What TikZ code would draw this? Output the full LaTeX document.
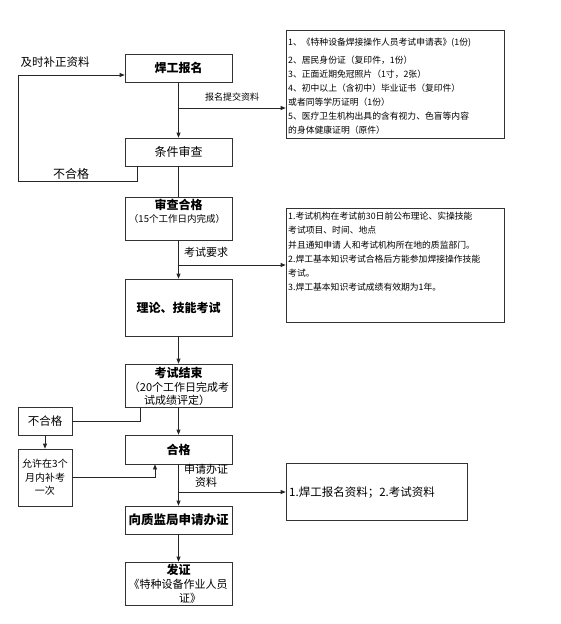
\documentclass[tikz,border=0pt]{standalone}
\usepackage{fontspec}
\setmainfont{Noto Sans CJK SC}
\usetikzlibrary{arrows.meta}
\begin{document}
\begin{tikzpicture}[x=1pt,y=-1pt,
  box/.style={draw=black!80, line width=0.7pt, minimum width=107pt, inner sep=0pt},
  sbox/.style={draw=black!80, line width=0.7pt, minimum width=54pt, inner sep=0pt},
  rbox/.style={draw=black!80, line width=0.7pt, inner sep=0pt},
  conn/.style={draw=black!85, line width=0.7pt},
  arr/.style={conn, -{Triangle[length=5pt,width=4pt]}},
  ttl/.style={font=\bfseries\fontsize{12}{14}\selectfont, inner sep=0pt},
  lbl/.style={inner sep=0pt},
  note/.style={inner sep=0pt, align=left, anchor=north west}
]
\useasboundingbox (0,0) rectangle (561,624);
% main column
\node[box, minimum height=28pt, ttl] (hb) at (178.5,68) {焊工报名};
\node[box, minimum height=28pt, font=\fontsize{12}{14}\selectfont] (tj) at (178.5,152) {条件审查};
\node[box, minimum height=43pt] (sc) at (178.5,218.5) {};
\node[ttl] (sct) at (178.5,205) {审查合格};
\node[lbl, font=\fontsize{9.5}{11}\selectfont] (scs) at (177,219) {（15个工作日内完成）};
\node[box, minimum height=57pt, ttl] (ll) at (178.5,307.5) {理论、技能考试};
\node[box, minimum height=43pt] (ks) at (178.5,385.5) {};
\node[ttl] (kst) at (178.5,373) {考试结束};
\node[lbl, font=\fontsize{11}{13}\selectfont] (kss1) at (179,387) {（20个工作日完成考};
\node[lbl, font=\fontsize{11}{13}\selectfont] (kss2) at (177,400) {试成绩评定）};
\node[box, minimum height=29pt, ttl] (hg) at (178.5,449.5) {合格};
\node[box, minimum height=28pt, font=\bfseries\fontsize{12.5}{14}\selectfont] (xz) at (178.5,520) {向质监局申请办证};
\node[box, minimum height=43pt] (fz) at (178.5,583.5) {};
\node[ttl] (fzt) at (178.5,570) {发证};
\node[lbl, font=\fontsize{11}{13}\selectfont] (fzs1) at (178,584) {《特种设备作业人员};
\node[lbl, font=\fontsize{11}{13}\selectfont] (fzs2) at (190,598) {证》};
% left boxes
\node[sbox, minimum height=28pt, font=\fontsize{11.5}{13}\selectfont] (bhg) at (45,421) {不合格};
\node[sbox, minimum height=57pt, align=center, font=\fontsize{10}{13.5}\selectfont] (yx) at (45,477.5) {允许在3个\\月内补考\\一次};
% right boxes
\node[rbox, minimum width=218pt, minimum height=108pt] (r1) at (395,84) {};
\node[note, font=\fontsize{8.8}{14}\selectfont] (r1t) at (288,38) {1、《特种设备焊接操作人员考试申请表》(1份)\\[4pt]
2、居民身份证（复印件，1份）\\
3、正面近期免冠照片（1寸，2张）\\
4、初中以上（含初中）毕业证书（复印件）\\
或者同等学历证明（1份）\\
5、医疗卫生机构出具的含有视力、色盲等内容\\
的身体健康证明（原件）};
\node[rbox, minimum width=218pt, minimum height=114pt] (r2) at (395,265) {};
\node[note, font=\fontsize{8.8}{14.2}\selectfont] (r2t) at (288,212) {1.考试机构在考试前30日前公布理论、实操技能\\
考试项目、时间、地点\\
并且通知申请 人和考试机构所在地的质监部门。\\
2.焊工基本知识考试合格后方能参加焊接操作技能\\
考试。\\
3.焊工基本知识考试成绩有效期为1年。};
\node[rbox, minimum width=181pt, minimum height=57pt] (r3) at (376.5,491.5) {};
\node[lbl, anchor=west, font=\fontsize{11.5}{13}\selectfont] (r3t) at (289,493) {1.焊工报名资料；2.考试资料};
% labels
\node[lbl, font=\fontsize{11.5}{13}\selectfont] (lb1) at (55,62) {及时补正资料};
\node[lbl, font=\fontsize{9}{11}\selectfont] (lb2) at (232,97) {报名提交资料};
\node[lbl, font=\fontsize{12}{14}\selectfont] (lb3) at (71,174) {不合格};
\node[lbl, font=\fontsize{11}{13}\selectfont] (lb4) at (206,252) {考试要求};
\node[lbl, align=center, font=\fontsize{11}{13.5}\selectfont] (lb5) at (206,476) {申请办证\\资料};
% coordinates
\coordinate (b1) at (178.5,108);
\coordinate (b2) at (178.5,265);
\coordinate (b3) at (178.5,492);
\coordinate (l1) at (137,181);
\coordinate (l2) at (18,181);
\coordinate (l3) at (18,75);
\coordinate (f1) at (140,421);
\coordinate (g1) at (155,477.5);
% connectors
\draw[arr] (hb.south) -- (tj.north);
\draw[arr] (b1) -- (b1 -| r1.west);
\draw[arr] (tj.south -| l1) -- (l1) -- (l2) -- (l3) -- (l3 -| hb.west);
\draw[conn] (tj.south) -- (sc.north);
\draw[arr] (sc.south) -- (ll.north);
\draw[arr] (b2) -- (b2 -| r2.west);
\draw[arr] (ll.south) -- (ks.north);
\draw[arr] (ks.south) -- (hg.north);
\draw[conn] (ks.south -| f1) -- (f1) -- (bhg.east);
\draw[arr] (bhg.south) -- (yx.north);
\draw[arr] (yx.east) -- (g1) -- (hg.south -| g1);
\draw[arr] (hg.south) -- (xz.north);
\draw[arr] (b3) -- (b3 -| r3.west);
\draw[arr] (xz.south) -- (fz.north);
\end{tikzpicture}
\end{document}
